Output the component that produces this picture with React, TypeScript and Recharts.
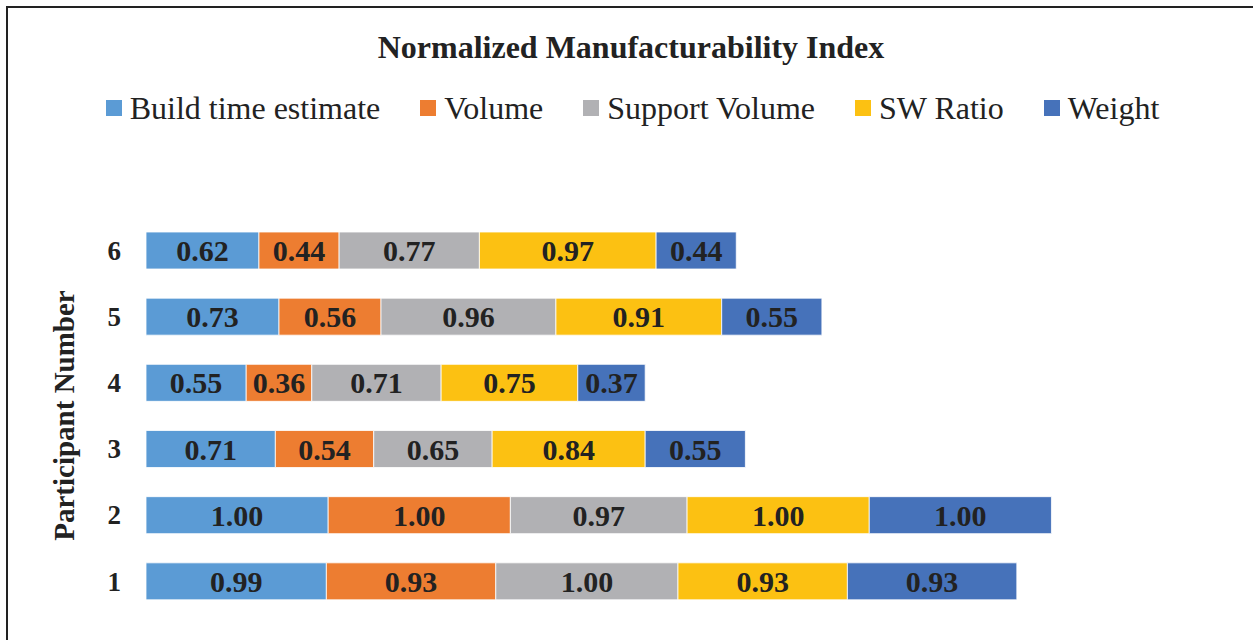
import React from "react";
import { BarChart, Bar, XAxis, YAxis, LabelList } from "recharts";

const participants = ["1", "2", "3", "4", "5", "6"];
const buildTime = [0.99, 1.0, 0.71, 0.55, 0.73, 0.62];
const volume = [0.93, 1.0, 0.54, 0.36, 0.56, 0.44];
const supportVolume = [1.0, 0.97, 0.65, 0.71, 0.96, 0.77];
const swRatio = [0.93, 1.0, 0.84, 0.75, 0.91, 0.97];
const weight = [0.93, 1.0, 0.55, 0.37, 0.55, 0.44];

const seriesNames = ["Build time estimate", "Volume", "Support Volume", "SW Ratio", "Weight"];
const seriesKeys = ["build", "volume", "support", "sw", "weight"];
const seriesColors = ["#5B9BD5", "#ED7D31", "#B1B1B4", "#FCC112", "#4672BA"];

const data = participants.map((p, i) => ({
  name: p,
  build: buildTime[i],
  volume: volume[i],
  support: supportVolume[i],
  sw: swRatio[i],
  weight: weight[i],
}));

const FONT = '"Liberation Serif", "Times New Roman", serif';

export default function App() {
  return (
    <div
      style={{
        position: "fixed",
        left: 0,
        top: 0,
        width: 1253,
        height: 640,
        background: "#fff",
        overflow: "hidden",
      }}
    >
      <div
        style={{
          position: "absolute",
          left: 6,
          top: 6,
          width: 1300,
          height: 700,
          borderLeft: "2px solid #222",
          borderTop: "2px solid #222",
        }}
      />
      <div
        style={{
          position: "absolute",
          left: 0,
          top: 28,
          width: 1262,
          textAlign: "center",
          fontFamily: FONT,
          fontWeight: "bold",
          fontSize: 32,
          lineHeight: "38px",
          color: "#222",
        }}
      >
        Normalized Manufacturability Index
      </div>
      <div
        style={{
          position: "absolute",
          left: 0,
          top: 89,
          width: 1265,
          display: "flex",
          justifyContent: "center",
          alignItems: "center",
          gap: 40,
          fontFamily: FONT,
          fontSize: 32,
          lineHeight: "38px",
          color: "#222",
        }}
      >
        {seriesNames.map((n, i) => (
          <div key={n} style={{ display: "flex", alignItems: "center" }}>
            <span
              style={{
                display: "inline-block",
                width: 16,
                height: 16,
                background: seriesColors[i],
                marginRight: 8,
              }}
            />
            <span>{n}</span>
          </div>
        ))}
      </div>
      <div style={{ position: "absolute", left: 0, top: 0 }}>
        <BarChart
          width={1253}
          height={640}
          data={data}
          layout="vertical"
          margin={{ top: 217, right: 105, bottom: 26, left: 0 }}
          barSize={37}
        >
          <XAxis type="number" hide domain={[0, 5.5]} />
          <YAxis
            type="category"
            dataKey="name"
            reversed
            width={146}
            axisLine={false}
            tickLine={false}
            tickMargin={19}
            tick={{ fontFamily: FONT, fontSize: 27, fontWeight: "bold", fill: "#222" }}
            label={{
              value: "Participant Number",
              angle: -90,
              position: "insideLeft",
              dx: 59,
              dy: 0,
              style: {
                fontFamily: FONT,
                fontSize: 29,
                fontWeight: "bold",
                fill: "#222",
                textAnchor: "middle",
              },
            }}
          />
          {seriesKeys.map((k, i) => (
            <Bar
              key={k}
              dataKey={k}
              name={seriesNames[i]}
              stackId="a"
              fill={seriesColors[i]}
              stroke="#ffffff"
              strokeWidth={0.8}
              isAnimationActive={false}
            >
              <LabelList
                dataKey={k}
                position="center"
                formatter={(v: number) => v.toFixed(2)}
                style={{
                  fontFamily: FONT,
                  fontSize: 30,
                  fontWeight: "bold",
                  fill: "#222",
                }}
              />
            </Bar>
          ))}
        </BarChart>
      </div>
    </div>
  );
}
